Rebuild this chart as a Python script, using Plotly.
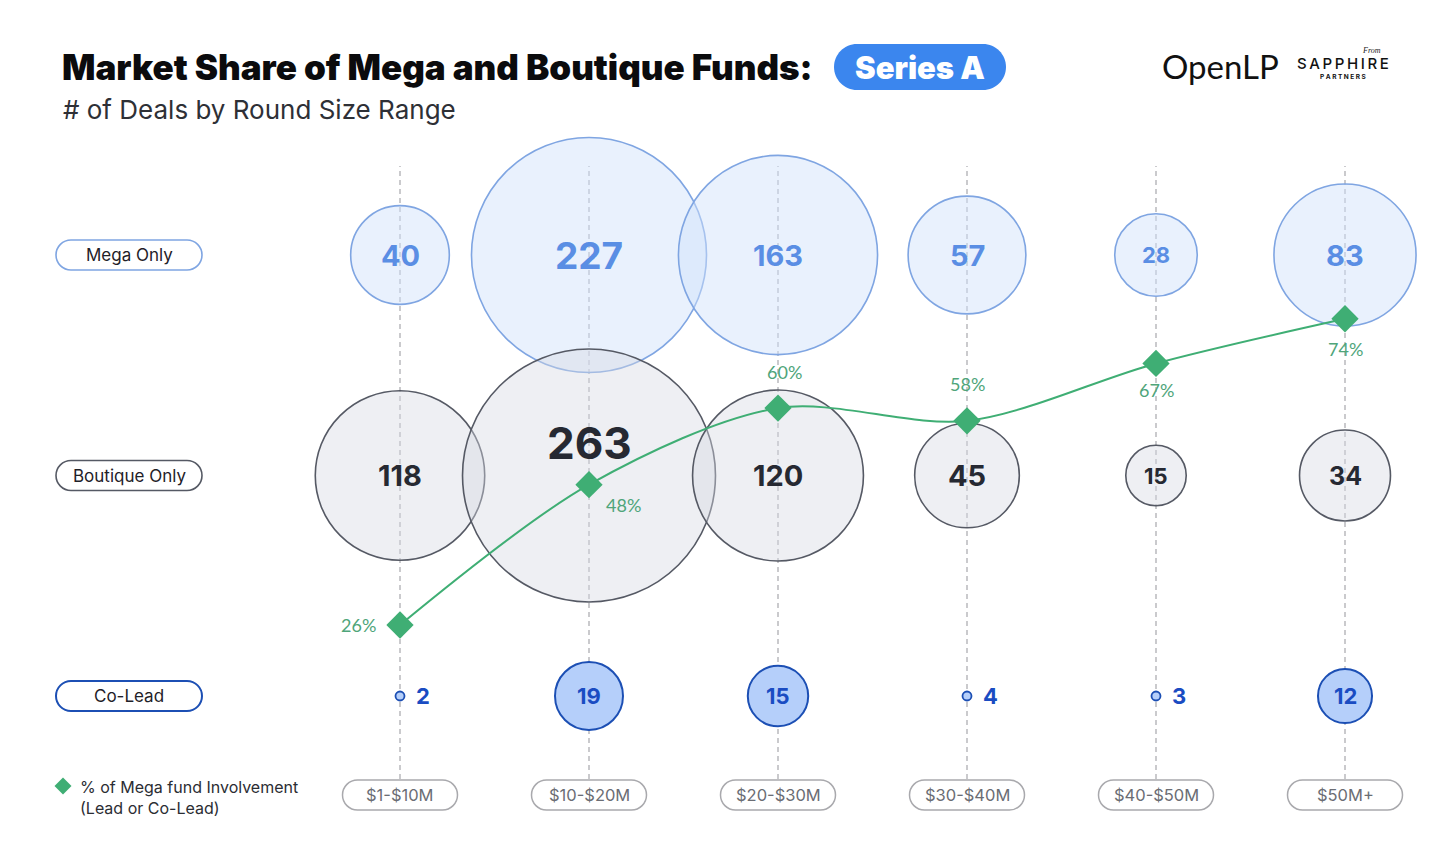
"""Series A deal counts by round size: mega-only, boutique-only and co-led rounds as bubbles,
with the share of rounds that had a mega fund involved drawn as a line across them."""

import math

import plotly.graph_objects as go

ROUNDS = ["$1-$10M", "$10-$20M", "$20-$30M", "$30-$40M", "$40-$50M", "$50M+"]
ROWS = ["Co-Lead", "Boutique Only", "Mega Only"]          # bottom to top
MEGA_ONLY = [40, 227, 163, 57, 28, 83]
BOUTIQUE_ONLY = [118, 263, 120, 45, 15, 34]
CO_LEAD = [2, 19, 15, 4, 3, 12]
MEGA_SHARE = [26, 48, 60, 58, 67, 74]                      # % of rounds, lead or co-lead

W, H = 1456, 856
COL0, COL_STEP = 400, 189        # pixel x of the first column, and the spacing
ROW0, ROW_STEP = 696, 220.5      # pixel y of the bottom row, and the spacing
PCT_MID, PCT_AT, PCT_STEP = 436.8, 55.5, 6.38   # pixel y of PCT_AT %, px per point

FONT = "Inter"
INK = "#1f2128"
GREEN = "#3fae74"
GREEN_TEXT = "#4fa57a"
DASH = "#b9b9bd"

STYLE = {
    "Mega Only": dict(fill="rgba(210,225,251,0.48)", line="#7fa5e2", text="#5a8ee4", width=1.6),
    "Boutique Only": dict(fill="rgba(214,217,226,0.42)", line="#555964", text="#262932", width=1.6),
    "Co-Lead": dict(fill="#b5cffa", line="#1c4fb4", text="#1a4cc2", width=2),
}

# diameter = 15.6 px * sqrt(count), via plotly's own area sizing
D_MAX = 15.6 * math.sqrt(max(BOUTIQUE_ONLY))
SIZEREF = 2.0 * max(BOUTIQUE_ONLY) / D_MAX ** 2
SMALL = 10          # counts below this are drawn as a dot with the number beside it

# where each % label sits relative to its diamond (px: right, up)
PCT_OFFSET = [(-42, 0), (34, -20), (6, 36), (0, 37), (0, -27), (0, -30)]


def px_x(p):
    return p / W


def px_y(p):
    return 1 - p / H


def pill(w, h):
    """A rounded-end capsule centred on its anchor, in pixels."""
    r = h / 2
    k = 0.5523 * r
    a = w / 2 - r
    return (f"M {-a},{-r} L {a},{-r} "
            f"C {a + k},{-r} {a + r},{-k} {a + r},0 "
            f"C {a + r},{k} {a + k},{r} {a},{r} "
            f"L {-a},{r} "
            f"C {-a - k},{r} {-a - r},{k} {-a - r},0 "
            f"C {-a - r},{-k} {-a - k},{-r} {-a},{-r} Z")


def pill_shape(xref, x, yref, y, w, h, line, width=1.5, fill="white"):
    return dict(type="path", xref=xref, yref=yref, xsizemode="pixel", ysizemode="pixel",
                xanchor=x, yanchor=y, path=pill(w, h), fillcolor=fill,
                line=dict(color=line, width=width), layer="above")


def text(x, y, s, xref="paper", yref="paper", xanchor="center", **kw):
    return dict(x=x, y=y, xref=xref, yref=yref, text=s, showarrow=False,
                xanchor=xanchor, yanchor="middle", **kw)


def label_size(v):
    if v >= 250:
        return 44
    if v >= 200:
        return 37
    if v >= 40:
        return 29
    if v >= 30:
        return 25
    return 22


cols = list(range(len(ROUNDS)))
fig = go.Figure()
shapes, notes = [], []

# dashed guides, one per round size
for i in cols:
    shapes.append(dict(type="line", xref="x", x0=i, x1=i, yref="paper",
                       y0=px_y(779), y1=px_y(166), layer="below",
                       line=dict(color=DASH, width=1.5, dash="5px,4px")))

series = {"Mega Only": MEGA_ONLY, "Boutique Only": BOUTIQUE_ONLY, "Co-Lead": CO_LEAD}
for name, values in series.items():
    st = STYLE[name]
    row = ROWS.index(name)
    big = [i for i in cols if values[i] >= SMALL]
    small = [i for i in cols if values[i] < SMALL]
    fig.add_trace(go.Scatter(
        x=big, y=[row] * len(big), mode="markers", hoverinfo="skip",
        marker=dict(size=[values[i] for i in big], sizemode="area", sizeref=SIZEREF, opacity=1,
                    color=st["fill"], line=dict(color=st["line"], width=st["width"])),
    ))
    if small:
        fig.add_trace(go.Scatter(
            x=small, y=[row] * len(small), mode="markers", hoverinfo="skip",
            marker=dict(size=9, color=st["fill"], opacity=1,
                        line=dict(color=st["line"], width=1.8)),
        ))
    for i in cols:
        v = values[i]
        lift = 33 if v == max(BOUTIQUE_ONLY) else 0   # keep the green line off the big number
        notes.append(text(i, row, str(v), "x", "y",
                          xshift=(23 if v < SMALL else 0), yshift=lift,
                          font=dict(family=FONT, size=label_size(v), color=st["text"],
                                    weight=700)))

    # row label on the left
    shapes.append(pill_shape("paper", px_x(129), "y", row, 146, 30, st["line"], st["width"]))
    notes.append(text(px_x(129), row, name, yref="y",
                      font=dict(family=FONT, size=17, color=INK)))

# mega fund involvement line
fig.add_trace(go.Scatter(
    x=cols, y=MEGA_SHARE, yaxis="y2", mode="lines+markers", hoverinfo="skip",
    line=dict(color=GREEN, width=2, shape="spline", smoothing=0.9),
    marker=dict(symbol="diamond", size=21, color=GREEN),
))
for i, (dx, dy) in zip(cols, PCT_OFFSET):
    notes.append(text(i, MEGA_SHARE[i], f"{MEGA_SHARE[i]}%", "x", "y2", xshift=dx, yshift=dy,
                      font=dict(family="Lato", size=18, color=GREEN_TEXT)))

# round size labels along the bottom
for i, lab in enumerate(ROUNDS):
    shapes.append(pill_shape("x", i, "paper", px_y(795), 115, 30, "#a9a9ad", 1.5))
    notes.append(text(i, px_y(795), lab, xref="x",
                      font=dict(family=FONT, size=16.5, color="#6b6d74")))

# legend for the line
shapes.append(dict(type="path", xref="paper", yref="paper", xsizemode="pixel",
                   ysizemode="pixel", xanchor=px_x(63), yanchor=px_y(786),
                   path="M 0,-8.5 L 8.5,0 L 0,8.5 L -8.5,0 Z", fillcolor=GREEN,
                   line=dict(width=0)))
notes.append(text(px_x(78), px_y(797), "% of Mega fund Involvement<br>(Lead or Co-Lead)",
                  xanchor="left", align="left",
                  font=dict(family=FONT, size=16, color="#2b2d33")))

# title block
notes.append(text(px_x(60), px_y(67), "Market Share of Mega and Boutique Funds:",
                  xanchor="left", font=dict(family=FONT, size=35, color="#0b0b0d", weight=900)))
shapes.append(pill_shape("paper", px_x(920), "paper", px_y(67), 172, 46, "#3b86ee", 0,
                         fill="#3b86ee"))
notes.append(text(px_x(920), px_y(68), "Series A",
                  font=dict(family=FONT, size=31, color="white", weight=900)))
notes.append(text(px_x(61), px_y(110), "# of Deals by Round Size Range", xanchor="left",
                  font=dict(family=FONT, size=26, color="#2e3036")))

# logos
notes.append(text(px_x(1220), px_y(66), "OpenLP",
                  font=dict(family="Lato", size=33, color="#111")))
notes.append(text(px_x(1371), px_y(50), "<i>From</i>",
                  font=dict(family="Liberation Serif", size=8, color="#222")))
notes.append(text(px_x(1343), px_y(63), "\u2009".join("SAPPHIRE"),
                  font=dict(family=FONT, size=15, color="#111", weight=500)))
notes.append(text(px_x(1343), px_y(77), " ".join("PARTNERS"),
                  font=dict(family=FONT, size=6.5, color="#111", weight=700)))

fig.update_layout(
    width=W, height=H, autosize=False, showlegend=False,
    margin=dict(l=0, r=0, t=0, b=0),
    paper_bgcolor="white", plot_bgcolor="white",
    xaxis=dict(range=[-COL0 / COL_STEP, (W - COL0) / COL_STEP], visible=False, fixedrange=True),
    yaxis=dict(range=[(ROW0 - H) / ROW_STEP, ROW0 / ROW_STEP], visible=False, fixedrange=True),
    yaxis2=dict(overlaying="y", visible=False, fixedrange=True,
                range=[PCT_AT - (H - PCT_MID) / PCT_STEP, PCT_AT + PCT_MID / PCT_STEP]),
    shapes=shapes, annotations=notes,
)

# the page's default 8px body margin would shift the whole picture
fig.write_html("out.html", config=dict(displayModeBar=False),
               post_script="document.body.style.margin='0';")
